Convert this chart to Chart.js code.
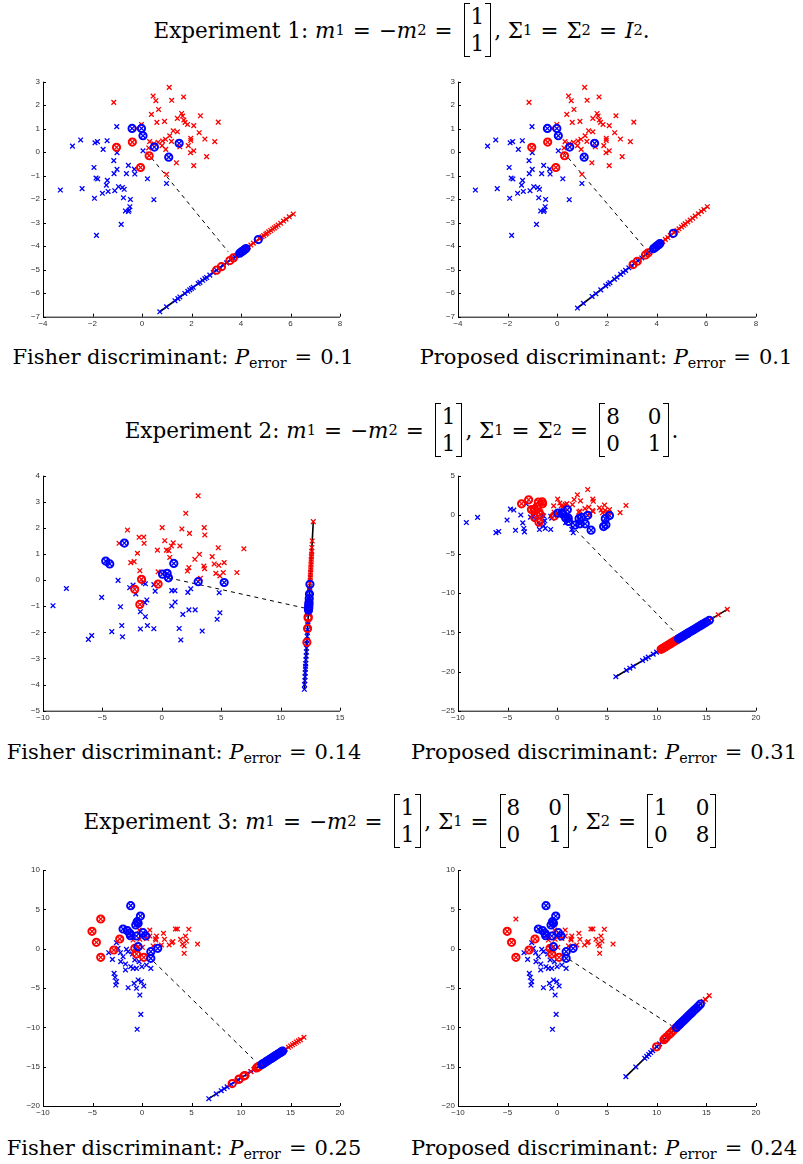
<!DOCTYPE html>
<html>
<head>
<meta charset="utf-8">
<script src="https://cdn.jsdelivr.net/npm/chart.js@4.4.1/dist/chart.umd.min.js"></script>
<style>
    body { margin: 0; background: #fff; }
    #page { position: relative; width: 803px; height: 1164px; overflow: hidden; font-family: "DejaVu Serif", serif; color: #000; }
    canvas { position: absolute; }
    .title { position: absolute; left: 0; width: 803px; height: 60px; display: flex; align-items: center; justify-content: center; font-size: 21.5px; white-space: nowrap; }
    .cap { position: absolute; width: 420px; text-align: center; font-size: 21px; line-height: 26px; white-space: nowrap; }
    sub { font-size: 0.68em; vertical-align: -0.3em; line-height: 0; }
    .eq { margin: 0 8px; }
    .mat { display: inline-flex; vertical-align: middle; align-items: stretch; margin: 0 3px 0 3px; }
    .br { width: 5px; border: 1.4px solid #000; }
    .br.l { border-right: none; }
    .br.r { border-left: none; }
    .cells { display: grid; line-height: 27px; padding: 0 1px; text-align: center; }
    .cells.c2 { grid-template-columns: auto auto; column-gap: 28px; }
</style>
</head>
<body>
<div id="page">
    <div class="title" style="top:0px">Experiment 1:&nbsp;<i>m</i><sub>1</sub><span class="eq">=</span>−<i>m</i><sub>2</sub><span class="eq">=</span><span class="mat"><span class="br l"></span><span class="cells"><span>1</span><span>1</span></span><span class="br r"></span></span>,&nbsp;Σ<sub>1</sub><span class="eq">=</span>Σ<sub>2</sub><span class="eq">=</span><i>I</i><sub>2</sub>.</div>
    <canvas id="c1" width="400" height="265" style="left:0px;top:70px"></canvas>
    <canvas id="c2" width="403" height="265" style="left:400px;top:70px"></canvas>
    <div class="cap" style="left:-27px;top:344px">Fisher discriminant:&nbsp;<i>P</i><sub>error</sub><span class="eq">=</span>0.1</div>
    <div class="cap" style="left:396px;top:344px">Proposed discriminant:&nbsp;<i>P</i><sub>error</sub><span class="eq">=</span>0.1</div>

    <div class="title" style="top:400px">Experiment 2:&nbsp;<i>m</i><sub>1</sub><span class="eq">=</span>−<i>m</i><sub>2</sub><span class="eq">=</span><span class="mat"><span class="br l"></span><span class="cells"><span>1</span><span>1</span></span><span class="br r"></span></span>,&nbsp;Σ<sub>1</sub><span class="eq">=</span>Σ<sub>2</sub><span class="eq">=</span><span class="mat"><span class="br l"></span><span class="cells c2"><span>8</span><span>0</span><span>0</span><span>1</span></span><span class="br r"></span></span>.</div>
    <canvas id="c3" width="400" height="270" style="left:0px;top:460px"></canvas>
    <canvas id="c4" width="403" height="270" style="left:400px;top:460px"></canvas>
    <div class="cap" style="left:-26px;top:739px">Fisher discriminant:&nbsp;<i>P</i><sub>error</sub><span class="eq">=</span>0.14</div>
    <div class="cap" style="left:394px;top:739px">Proposed discriminant:&nbsp;<i>P</i><sub>error</sub><span class="eq">=</span>0.31</div>

    <div class="title" style="top:791px">Experiment 3:&nbsp;<i>m</i><sub>1</sub><span class="eq">=</span>−<i>m</i><sub>2</sub><span class="eq">=</span><span class="mat"><span class="br l"></span><span class="cells"><span>1</span><span>1</span></span><span class="br r"></span></span>,&nbsp;Σ<sub>1</sub><span class="eq">=</span><span class="mat"><span class="br l"></span><span class="cells c2"><span>8</span><span>0</span><span>0</span><span>1</span></span><span class="br r"></span></span>,&nbsp;Σ<sub>2</sub><span class="eq">=</span><span class="mat"><span class="br l"></span><span class="cells c2"><span>1</span><span>0</span><span>0</span><span>8</span></span><span class="br r"></span></span></div>
    <canvas id="c5" width="400" height="265" style="left:0px;top:860px"></canvas>
    <canvas id="c6" width="403" height="265" style="left:400px;top:860px"></canvas>
    <div class="cap" style="left:-26px;top:1135px">Fisher discriminant:&nbsp;<i>P</i><sub>error</sub><span class="eq">=</span>0.25</div>
    <div class="cap" style="left:394px;top:1135px">Proposed discriminant:&nbsp;<i>P</i><sub>error</sub><span class="eq">=</span>0.24</div>
</div>

<script>
// ---- Experiment 1 samples (shared by both panels) ----
const exp1Red = [[-1.14,2.12],[1.10,2.76],[0.45,2.39],[0.56,2.19],[1.20,2.21],[1.68,2.35],[0.67,1.82],[0.38,1.61],
    [0.60,1.27],[0.91,1.31],[-0.02,1.18],[1.60,1.65],[1.64,1.54],[1.69,1.37],[1.74,1.27],[1.84,1.18],[2.09,1.13],
    [2.36,1.55],[3.08,1.28],[1.43,1.44],[2.31,0.83],[1.26,0.91],[1.43,0.87],[1.12,0.70],[1.97,0.59],[1.97,0.50],
    [2.54,0.56],[2.94,0.45],[0.31,0.45],[0.48,0.36],[0.65,0.42],[0.83,0.48],[0.95,0.55],[1.19,0.46],[0.81,0.28],
    [0.96,0.12],[1.53,0.23],[1.87,0.28],[2.09,0.06],[1.96,-0.02],[2.61,-0.19],[2.09,-0.57],[1.39,-0.45],[0.27,0.18],
    [0.99,-0.94],[-0.22,1.01],[-1.03,0.21],[-0.39,0.43],[0.29,-0.15],[-0.06,-0.65]];
const exp1Blue = [[-2.81,0.26],[-2.48,0.52],[-1.90,0.40],[-1.80,0.45],[-1.41,0.49],[-1.02,1.09],[-1.57,0.12],[-1.01,-0.02],
    [-1.14,-0.36],[-1.01,-0.73],[-1.13,-0.91],[-0.55,-0.56],[-0.31,-0.72],[-0.29,-0.93],[-0.63,-0.91],[0.04,0.06],
    [0.22,-1.13],[0.99,-1.33],[-1.94,-0.65],[-1.86,-1.10],[-1.79,-1.14],[-1.40,-1.20],[-1.44,-1.40],[-1.37,-1.67],
    [-1.60,-1.75],[-3.30,-1.61],[-2.42,-1.55],[-1.10,-1.64],[-0.95,-1.47],[-0.79,-1.50],[-0.72,-1.58],[-1.92,-1.96],
    [-0.75,-1.94],[-0.47,-2.01],[0.48,-2.02],[-0.49,-2.32],[-0.52,-2.46],[-0.67,-2.50],[-0.55,-2.52],[-0.84,-3.07],
    [-1.84,-3.54],[-0.40,1.01],[-0.02,1.01],[0.04,0.70],[0.50,0.22],[1.08,-0.21],[1.50,0.38]];
const exp1RedCirc = [[-1.03,0.21],[-0.39,0.43],[0.29,-0.15],[-0.06,-0.65]];
const exp1BlueCirc = [[-0.40,1.01],[-0.02,1.01],[0.04,0.70],[0.50,0.22],[1.08,-0.21],[1.50,0.38]];

// Experiment 1, Fisher projection
const fisher1Line = [[0.72,-6.79],[6.11,-2.63]];
const fisher1Dash = [[0.18,0.02],[3.48,-4.23]];
const fisher1ProjBlue = [[0.72,-6.79],[0.99,-6.58],[1.33,-6.32],[1.45,-6.23],[1.53,-6.16],[1.73,-6.01],[1.85,-5.92],
    [1.93,-5.86],[2.00,-5.80],[2.07,-5.75],[2.27,-5.59],[2.34,-5.54],[2.45,-5.45],[2.54,-5.38],[2.61,-5.33],[2.74,-5.23],
    [2.88,-5.12],[3.01,-5.02],[3.15,-4.91],[3.28,-4.81],[3.42,-4.71],[3.69,-4.50],[3.75,-4.45],[3.82,-4.40],[3.88,-4.35],
    [3.95,-4.30],[4.00,-4.26],[4.05,-4.22],[4.10,-4.18],[4.15,-4.14],[4.20,-4.10]];
const fisher1ProjRed = [[4.30,-4.03],[4.40,-3.95],[4.50,-3.87],[4.62,-3.78],[4.75,-3.68],[4.85,-3.60],[4.92,-3.55],
    [5.00,-3.49],[5.05,-3.45],[5.12,-3.39],[5.20,-3.33],[5.28,-3.27],[5.35,-3.22],[5.42,-3.16],[5.50,-3.10],[5.60,-3.02],
    [5.72,-2.93],[5.82,-2.85],[5.95,-2.75],[6.11,-2.63]];
const fisher1ProjBlueCirc = [[3.95,-4.30],[4.02,-4.24],[4.08,-4.20],[4.15,-4.14],[4.20,-4.10],[4.70,-3.72]];
const fisher1ProjRedCirc = [[3.01,-5.02],[3.21,-4.87],[3.55,-4.61],[3.69,-4.50]];

// Experiment 1, proposed projection
const prop1Line = [[0.81,-6.63],[6.04,-2.32]];
const prop1Dash = [[0.23,0.02],[3.59,-4.16]];
const prop1ProjBlue = [[0.81,-6.63],[1.05,-6.43],[1.40,-6.14],[1.55,-6.02],[1.75,-5.86],[1.95,-5.69],[2.05,-5.61],
    [2.12,-5.55],[2.30,-5.40],[2.40,-5.32],[2.55,-5.20],[2.65,-5.11],[2.75,-5.03],[2.88,-4.92],[3.00,-4.83],[3.10,-4.74],
    [3.25,-4.62],[3.40,-4.50],[3.62,-4.31],[3.70,-4.25],[3.78,-4.18],[3.85,-4.13],[3.92,-4.07],[4.00,-4.00],[4.05,-3.96],
    [4.10,-3.92],[4.15,-3.88]];
const prop1ProjRed = [[4.25,-3.80],[4.35,-3.71],[4.45,-3.63],[4.55,-3.55],[4.70,-3.42],[4.82,-3.33],[4.90,-3.26],
    [5.00,-3.18],[5.08,-3.11],[5.15,-3.05],[5.25,-2.97],[5.35,-2.89],[5.45,-2.81],[5.55,-2.72],[5.68,-2.62],[5.80,-2.52],
    [5.90,-2.44],[6.04,-2.32]];
const prop1ProjBlueCirc = [[3.88,-4.10],[3.95,-4.04],[4.02,-3.98],[4.08,-3.94],[4.13,-3.89],[4.67,-3.45]];
const prop1ProjRedCirc = [[3.05,-4.78],[3.22,-4.64],[3.55,-4.37],[3.66,-4.28]];

// ---- Experiment 2 samples ----
const exp2Red = [[3.06,3.23],[2.02,2.56],[-2.89,1.92],[0.03,2.01],[1.69,1.96],[2.33,1.79],[3.57,2.01],[3.62,1.73],
    [-3.60,1.41],[-1.91,1.64],[-1.52,1.65],[-1.49,1.41],[0.25,1.51],[0.96,1.43],[0.81,1.31],[1.52,1.31],[-0.37,1.15],
    [0.39,1.15],[0.59,1.13],[-2.05,1.03],[6.91,1.20],[4.75,1.24],[3.17,0.99],[4.24,0.90],[0.67,0.87],[2.78,0.80],
    [-2.61,0.67],[-2.33,0.71],[4.41,0.62],[4.80,0.57],[5.25,0.67],[3.54,0.54],[3.60,0.44],[2.28,0.48],[2.16,0.35],
    [-1.85,0.36],[-0.31,0.32],[4.55,0.26],[5.17,0.29],[4.89,0.16],[6.32,0.29],[3.25,0.07],
    [-1.71,0.03],[-2.28,-0.35],[-0.31,-0.15],[-1.85,-0.93]];
const exp2Blue = [[-9.16,-0.98],[-8.03,-0.32],[-5.06,-0.66],[-6.18,-2.27],[-5.90,-2.12],[-4.21,-1.97],[-3.31,-2.17],
    [-3.37,-1.74],[-3.48,-1.02],[-3.68,-0.01],[-2.70,-0.29],[-2.42,-0.19],[-2.19,-0.53],[-1.52,-0.10],[-1.38,-0.14],
    [-1.43,-0.86],[-1.26,-0.76],[-1.38,-1.40],[-1.80,-1.21],[-1.80,-1.87],[-1.21,-1.74],[-0.67,-0.17],[-0.56,-0.42],
    [-0.67,-1.86],[0.84,-0.40],[1.10,-0.40],[1.12,-0.84],[0.84,-0.99],[1.77,-1.31],[1.60,-2.29],[1.46,-1.85],
    [2.19,-0.47],[2.44,-0.33],[2.28,-1.14],[2.81,-1.14],[3.40,-1.95],[4.83,-0.48],[4.66,-1.50],[4.89,-1.25],
    [0.56,0.09],[-3.15,1.42],[-4.72,0.73],[-4.38,0.62],[0.06,0.23],[0.45,0.26],[1.01,0.64],[3.06,-0.06],[5.25,-0.09]];

// Experiment 2, Fisher projection
const fisher2RedCirc = [[-1.71,0.03],[-2.28,-0.35],[-0.31,-0.15],[-1.85,-0.93]];
const fisher2BlueCirc = [[-3.15,1.42],[-4.72,0.73],[-4.38,0.62],[0.06,0.23],[0.45,0.26],[0.56,0.09],[1.01,0.64],
    [3.06,-0.06],[5.25,-0.09]];
const fisher2Line = [[12.00,-4.18],[12.75,2.24]];
const fisher2Dash = [[0.56,0.09],[12.13,-1.08]];
const fisher2ProjBlue = [[12.00,-4.18],[12.02,-4.00],[12.04,-3.85],[12.06,-3.70],[12.07,-3.55],[12.09,-3.40],
    [12.10,-3.30],[12.11,-3.20],[12.13,-3.05],[12.15,-2.90],[12.17,-2.75],[12.18,-2.60],[12.20,-2.45],[12.22,-2.30],
    [12.24,-2.15],[12.25,-2.00],[12.27,-1.90],[12.29,-1.70],[12.30,-1.60],[12.34,-1.30],[12.35,-1.20],[12.37,-1.00],
    [12.39,-0.80],[12.42,-0.60],[12.44,-0.40],[12.45,-0.30]];
const fisher2ProjRed = [[12.45,-0.30],[12.48,-0.10],[12.49,0.00],[12.50,0.10],[12.51,0.20],[12.52,0.30],[12.54,0.40],
    [12.55,0.50],[12.56,0.60],[12.57,0.70],[12.58,0.80],[12.59,0.90],[12.61,1.00],[12.62,1.10],[12.63,1.25],
    [12.66,1.50],[12.75,2.24]];
const fisher2ProjBlueCirc = [[12.47,-0.16],[12.43,-0.53],[12.41,-0.70],[12.39,-0.85],[12.38,-0.92],[12.37,-0.98],
    [12.37,-1.05],[12.36,-1.10],[12.35,-1.15]];
const fisher2ProjRedCirc = [[12.32,-1.40],[12.32,-1.45],[12.27,-1.85],[12.21,-2.38]];

// Experiment 2, proposed projection
const prop2RedCirc = [[-3.60,1.41],[-2.89,1.92],[-2.61,0.67],[-2.33,0.71],[-1.91,1.64],[-1.52,1.65],[-1.49,1.41],
    [-2.05,1.03],[-1.85,0.36],[-1.71,0.03],[-2.28,-0.35],[-1.85,-0.93],[-0.31,-0.15]];
const prop2BlueCirc = [[0.06,0.23],[0.45,0.26],[0.56,0.09],[1.01,0.64],[0.84,-0.40],[1.10,-0.40],[1.12,-0.84],
    [1.77,-1.31],[2.19,-0.47],[2.44,-0.33],[2.28,-1.14],[2.81,-1.14],[3.40,-1.95],[3.06,-0.06],[4.83,-0.48],
    [4.66,-1.50],[4.89,-1.25],[5.25,-0.09]];
const prop2Line = [[5.89,-20.66],[17.11,-12.06]];
const prop2Dash = [[0.18,0.28],[11.93,-15.13]];
const prop2ProjBlue = [[5.89,-20.66],[6.96,-19.84],[7.30,-19.58],[7.64,-19.32],[8.58,-18.60],[8.90,-18.35],
    [9.15,-18.16],[9.65,-17.78],[9.99,-17.52],[10.30,-17.28],[12.30,-15.75],[12.60,-15.52],[13.00,-15.21],
    [13.30,-14.98],[13.60,-14.75],[14.00,-14.44],[14.30,-14.21],[14.60,-13.98],[15.00,-13.68],[15.30,-13.45]];
const prop2ProjRed = [[10.50,-17.13],[11.00,-16.74],[11.40,-16.44],[11.80,-16.13],[12.00,-15.98],[15.53,-13.27],
    [16.20,-12.76],[17.11,-12.06]];
const prop2ProjBlueCirc = [[12.20,-15.82],[12.35,-15.71],[12.50,-15.59],[12.65,-15.48],[12.80,-15.36],[13.00,-15.21],
    [13.10,-15.13],[13.20,-15.06],[13.40,-14.90],[13.60,-14.75],[13.80,-14.60],[14.00,-14.44],[14.20,-14.29],
    [14.40,-14.14],[14.60,-13.98],[14.80,-13.84],[15.00,-13.68],[15.30,-13.45]];
const prop2ProjRedCirc = [[10.45,-17.16],[10.60,-17.05],[10.75,-16.93],[10.90,-16.82],[11.05,-16.70],[11.20,-16.59],
    [11.35,-16.47],[11.50,-16.36],[11.65,-16.24],[11.80,-16.13],[11.95,-16.01],[12.10,-15.90]];

// ---- Experiment 3 samples ----
const exp3Red = [[-0.90,1.10],[-0.29,2.37],[0.04,0.17],[0.45,1.31],[0.79,1.61],[1.12,0.34],[1.39,1.10],[1.46,1.61],
    [1.36,1.27],[2.17,1.95],[2.27,1.19],[2.74,0.47],[3.01,0.76],[3.11,0.89],[3.38,2.50],[3.58,2.50],[3.89,1.19],
    [4.09,0.59],[4.26,0.34],[4.26,-0.59],[4.39,1.61],[4.73,2.46],[4.49,0.97],[5.61,0.59],[0.79,2.37],[1.96,0.47],
    [-0.22,1.19],[-5.05,2.20],[-4.17,3.77],[-4.61,0.81],[-4.17,-1.10],[-2.85,-0.17],[-2.25,1.23],[-0.73,0.04],
    [-0.56,-0.68],[0.18,-1.10]];
const exp3Blue = [[-3.36,-0.51],[-2.99,-1.36],[-2.58,0.76],[-2.42,0.04],[-2.18,-0.51],[-2.15,-1.65],[-1.67,-1.95],
    [-1.67,-2.71],[-1.14,-2.29],[-0.90,-2.50],[-0.73,-1.44],[-0.56,-2.50],[-0.29,-1.65],[-0.02,-2.29],[0.45,-2.08],
    [0.89,-2.50],[-2.82,-3.14],[-2.72,-3.64],[-2.58,-4.19],[-2.65,-4.62],[-1.40,-4.96],[-0.80,-4.41],[-0.39,-3.98],
    [-0.56,-5.04],[0.18,-4.75],[-0.06,-4.19],[-0.22,-5.89],[-0.12,-8.35],[-0.49,-10.25],[-1.57,-0.08],[-0.97,-0.68],
    [-1.91,-1.02],[-1.40,-0.38],[-1.14,5.47],[-0.16,4.15],[-0.49,3.43],[-0.63,3.01],[-0.39,3.22],[-1.91,2.50],
    [-1.47,2.29],[-1.24,1.95],[-1.17,1.65],[-0.56,1.61],[0.11,2.03],[0.38,1.61],[-0.39,0.25],[0.89,-0.38],
    [0.89,-1.23],[1.59,0.04]];
const exp3BlueCirc = [[-1.14,5.47],[-0.16,4.15],[-0.49,3.43],[-0.63,3.01],[-0.39,3.22],[-1.91,2.50],[-1.47,2.29],
    [-1.24,1.95],[-1.17,1.65],[-0.56,1.61],[0.11,2.03],[0.38,1.61],[-0.39,0.25],[0.89,-0.38],[0.89,-1.23],[1.59,0.04]];

// Experiment 3, Fisher projection
const fisher3RedCirc = [[-5.05,2.20],[-4.17,3.77],[-4.61,0.81],[-4.17,-1.10],[-2.85,-0.17],[-2.25,1.23],
    [-0.73,0.04],[-0.56,-0.68],[0.18,-1.10]];
const fisher3Line = [[6.75,-19.07],[16.36,-11.27]];
const fisher3Dash = [[0.60,-0.93],[11.23,-14.03]];
const fisher3ProjBlue = [[6.75,-19.07],[7.50,-18.46],[8.00,-18.06],[8.30,-17.81],[8.60,-17.57],[9.00,-17.24],
    [9.40,-16.92],[9.70,-16.68],[10.00,-16.43],[10.60,-15.95],[11.00,-15.62],[11.30,-15.38],[12.00,-14.81],
    [12.30,-14.57],[12.70,-14.25],[13.00,-13.99],[13.40,-13.67],[13.80,-13.35]];
const fisher3ProjRed = [[11.00,-15.62],[14.50,-12.78],[14.80,-12.54],[15.00,-12.37],[15.20,-12.21],[15.40,-12.05],
    [15.60,-11.88],[15.80,-11.72],[16.00,-11.56],[16.36,-11.27]];
const fisher3ProjBlueCirc = [[12.10,-14.73],[12.20,-14.65],[12.30,-14.57],[12.50,-14.40],[12.65,-14.28],
    [12.80,-14.16],[12.95,-14.03],[13.10,-13.92],[13.25,-13.79],[13.40,-13.67],[13.55,-13.55],[13.70,-13.43],
    [13.85,-13.31],[14.00,-13.19],[14.15,-13.06],[14.20,-13.02]];
const fisher3ProjRedCirc = [[9.11,-17.15],[9.80,-16.60],[9.82,-16.58],[10.30,-16.19],[10.39,-16.12],[11.57,-15.16],
    [11.70,-15.05],[11.75,-15.01],[11.84,-14.94]];

// Experiment 3, proposed projection
const prop3RedCirc = [[-5.05,2.20],[-4.61,0.81],[-4.17,-1.10],[-2.85,-0.17],[-2.25,1.23],[-0.73,0.04],
    [-0.56,-0.68],[0.18,-1.10]];
const prop3Line = [[6.90,-16.27],[15.29,-5.97]];
const prop3Dash = [[0.50,-0.80],[11.50,-9.79]];
const prop3ProjBlue = [[6.90,-16.27],[7.90,-15.04],[8.80,-13.94],[9.00,-13.69],[9.20,-13.45],[9.40,-13.20],
    [9.60,-12.96],[10.00,-12.46],[10.30,-12.10],[10.60,-11.73],[11.20,-10.99],[12.30,-9.64],[12.60,-9.27],
    [13.00,-8.78],[13.40,-8.29]];
const prop3ProjRed = [[11.10,-11.11],[14.70,-6.69],[14.90,-6.45],[15.29,-5.97]];
const prop3ProjBlueCirc = [[12.00,-10.01],[12.20,-9.76],[12.30,-9.64],[12.40,-9.52],[12.55,-9.33],[12.70,-9.15],
    [12.85,-8.97],[13.00,-8.78],[13.15,-8.60],[13.30,-8.41],[13.45,-8.23],[13.60,-8.04],[13.80,-7.80],[14.00,-7.56],
    [14.20,-7.31],[14.40,-7.06]];
const prop3ProjRedCirc = [[9.99,-12.48],[10.73,-11.57],[10.85,-11.42],[11.00,-11.24],[11.26,-10.92],[11.45,-10.68],
    [11.67,-10.41],[11.93,-10.10]];

// Axis ranges / ticks per panel
const xRange1 = [-4, 8], xStep1 = 2, yRange1 = [-7, 3], yStep1 = 1;
const xRange3 = [-10, 15], xStep3 = 5, yRange3 = [-5, 4], yStep3 = 1;
const xRange4 = [-10, 20], xStep4 = 5, yRange4 = [-25, 5], yStep4 = 5;
const xRange5 = [-10, 20], xStep5 = 5, yRange5 = [-20, 10], yStep5 = 5;

const RED = '#ff0000';
const BLUE = '#0000ff';

const pts = arr => arr.map(([x, y]) => ({ x, y }));

// MATLAB style axes: left + bottom line, ticks pointing in
const matlabAxes = {
    id: 'matlabAxes',
    afterDraw(chart) {
        const ctx = chart.ctx;
        const area = chart.chartArea;
        const xs = chart.scales.x;
        const ys = chart.scales.y;
        ctx.save();
        ctx.strokeStyle = '#000';
        ctx.lineWidth = 1;
        ctx.beginPath();
        ctx.moveTo(area.left + 0.5, area.top);
        ctx.lineTo(area.left + 0.5, area.bottom + 0.5);
        ctx.lineTo(area.right, area.bottom + 0.5);
        ctx.stroke();
        xs.ticks.forEach(t => {
            const px = Math.round(xs.getPixelForValue(t.value)) + 0.5;
            ctx.beginPath();
            ctx.moveTo(px, area.bottom);
            ctx.lineTo(px, area.bottom - 3);
            ctx.stroke();
        });
        ys.ticks.forEach(t => {
            const py = Math.round(ys.getPixelForValue(t.value)) + 0.5;
            ctx.beginPath();
            ctx.moveTo(area.left, py);
            ctx.lineTo(area.left + 3, py);
            ctx.stroke();
        });
        ctx.restore();
    }
};

function crossSet(data, color) {
    return {
        data: pts(data), pointStyle: 'crossRot', pointRadius: 3.3, borderColor: color,
        borderWidth: 1.3, backgroundColor: color, showLine: false
    };
}

function circleSet(data, color) {
    return {
        data: pts(data), pointStyle: 'circle', pointRadius: 3.6, borderColor: color,
        borderWidth: 2, backgroundColor: 'rgba(0,0,0,0)', showLine: false
    };
}

function makePanel(id, p) {
    const ctx = document.getElementById(id).getContext('2d');
    const fmt = v => String(v).replace('-', '\u2212');
    return new Chart(ctx, {
        type: 'scatter',
        data: {
            datasets: [
                circleSet(p.blueCirc, BLUE),
                circleSet(p.redCirc, RED),
                circleSet(p.projBlueCirc, BLUE),
                circleSet(p.projRedCirc, RED),
                crossSet(p.red, RED),
                crossSet(p.blue, BLUE),
                crossSet(p.projRed, RED),
                crossSet(p.projBlue, BLUE),
                { data: pts(p.dash), showLine: true, borderColor: '#000', borderWidth: 1, borderDash: [4, 4], pointRadius: 0 },
                { data: pts(p.line), showLine: true, borderColor: '#000', borderWidth: 1.6, pointRadius: 0 }
            ]
        },
        options: {
            responsive: false,
            animation: false,
            devicePixelRatio: 1,
            layout: { padding: { top: p.top, right: p.right, left: 0, bottom: 0 } },
            plugins: { legend: { display: false }, tooltip: { enabled: false } },
            scales: {
                x: {
                    type: 'linear', min: p.xr[0], max: p.xr[1],
                    grid: { display: false, drawTicks: false }, border: { display: false },
                    ticks: { stepSize: p.xs, padding: 2, color: '#333', font: { family: 'Liberation Sans', size: 8 }, callback: fmt, maxRotation: 0 },
                    afterFit: s => { s.height = p.bottom; }
                },
                y: {
                    type: 'linear', min: p.yr[0], max: p.yr[1],
                    grid: { display: false, drawTicks: false }, border: { display: false },
                    ticks: { stepSize: p.ys, padding: 3, color: '#333', font: { family: 'Liberation Sans', size: 8 }, callback: fmt },
                    afterFit: s => { s.width = p.left; }
                }
            }
        },
        plugins: [matlabAxes]
    });
}

makePanel('c1', { red: exp1Red, blue: exp1Blue, redCirc: exp1RedCirc, blueCirc: exp1BlueCirc,
    projRed: fisher1ProjRed, projBlue: fisher1ProjBlue, projRedCirc: fisher1ProjRedCirc, projBlueCirc: fisher1ProjBlueCirc,
    line: fisher1Line, dash: fisher1Dash, xr: xRange1, xs: xStep1, yr: yRange1, ys: yStep1,
    left: 43, right: 60, top: 11.7, bottom: 18.3 });
makePanel('c2', { red: exp1Red, blue: exp1Blue, redCirc: exp1RedCirc, blueCirc: exp1BlueCirc,
    projRed: prop1ProjRed, projBlue: prop1ProjBlue, projRedCirc: prop1ProjRedCirc, projBlueCirc: prop1ProjBlueCirc,
    line: prop1Line, dash: prop1Dash, xr: xRange1, xs: xStep1, yr: yRange1, ys: yStep1,
    left: 58, right: 47, top: 11.7, bottom: 18.3 });
makePanel('c3', { red: exp2Red, blue: exp2Blue, redCirc: fisher2RedCirc, blueCirc: fisher2BlueCirc,
    projRed: fisher2ProjRed, projBlue: fisher2ProjBlue, projRedCirc: fisher2ProjRedCirc, projBlueCirc: fisher2ProjBlueCirc,
    line: fisher2Line, dash: fisher2Dash, xr: xRange3, xs: xStep3, yr: yRange3, ys: yStep3,
    left: 43, right: 60, top: 15.7, bottom: 19.3 });
makePanel('c4', { red: exp2Red, blue: exp2Blue, redCirc: prop2RedCirc, blueCirc: prop2BlueCirc,
    projRed: prop2ProjRed, projBlue: prop2ProjBlue, projRedCirc: prop2ProjRedCirc, projBlueCirc: prop2ProjBlueCirc,
    line: prop2Line, dash: prop2Dash, xr: xRange4, xs: xStep4, yr: yRange4, ys: yStep4,
    left: 58, right: 47, top: 15.7, bottom: 19.3 });
makePanel('c5', { red: exp3Red, blue: exp3Blue, redCirc: fisher3RedCirc, blueCirc: exp3BlueCirc,
    projRed: fisher3ProjRed, projBlue: fisher3ProjBlue, projRedCirc: fisher3ProjRedCirc, projBlueCirc: fisher3ProjBlueCirc,
    line: fisher3Line, dash: fisher3Dash, xr: xRange5, xs: xStep5, yr: yRange5, ys: yStep5,
    left: 43, right: 60, top: 10, bottom: 19 });
makePanel('c6', { red: exp3Red, blue: exp3Blue, redCirc: prop3RedCirc, blueCirc: exp3BlueCirc,
    projRed: prop3ProjRed, projBlue: prop3ProjBlue, projRedCirc: prop3ProjRedCirc, projBlueCirc: prop3ProjBlueCirc,
    line: prop3Line, dash: prop3Dash, xr: xRange5, xs: xStep5, yr: yRange5, ys: yStep5,
    left: 58, right: 47, top: 10, bottom: 19 });
</script>
</body>
</html>
